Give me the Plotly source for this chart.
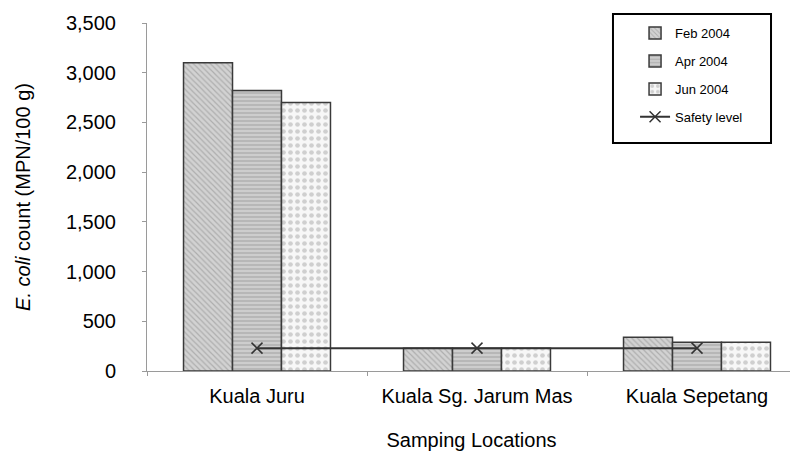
import plotly.graph_objects as go

locations = ["Kuala Juru", "Kuala Sg. Jarum Mas", "Kuala Sepetang"]
feb_2004 = [3100, 230, 340]
apr_2004 = [2820, 230, 290]
jun_2004 = [2700, 230, 290]
safety_level = [230, 230, 230]
y_ticks = [0, 500, 1000, 1500, 2000, 2500, 3000, 3500]

FONT = "Liberation Sans, Arial, sans-serif"
EDGE = "#3a3a3a"

fig = go.Figure()
fig.add_trace(go.Bar(
    x=locations, y=feb_2004, name="Feb 2004", legendgroup="a",
    marker=dict(color="#cfcfcf", line=dict(color=EDGE, width=1.5),
                pattern=dict(shape="\\", fgcolor="#8a8a8a", bgcolor="#d2d2d2", size=4, solidity=0.3)),
))
fig.add_trace(go.Bar(
    x=locations, y=apr_2004, name="Apr 2004", legendgroup="b",
    marker=dict(color="#c8c8c8", line=dict(color=EDGE, width=1.5),
                pattern=dict(shape="-", fgcolor="#8e8e8e", bgcolor="#cdcdcd", size=4, solidity=0.35)),
))
fig.add_trace(go.Bar(
    x=locations, y=jun_2004, name="Jun 2004", legendgroup="c",
    marker=dict(color="#f2f2f2", line=dict(color=EDGE, width=1.5),
                pattern=dict(shape=".", fgcolor="#a8a8a8", bgcolor="#f7f7f7", size=7, solidity=0.35)),
))
fig.add_trace(go.Scatter(
    x=locations, y=safety_level, name="Safety level", legendgroup="d",
    mode="lines+markers",
    line=dict(color="#333333", width=2),
    marker=dict(symbol="x-thin", size=11, line=dict(color="#333333", width=1.5)),
))

fig.update_layout(
    width=790, height=449,
    margin=dict(l=139, r=2, t=15, b=86, autoexpand=False),
    paper_bgcolor="white", plot_bgcolor="white",
    font=dict(family=FONT, color="black"),
    barmode="group", bargap=0.332, bargroupgap=0,
    showlegend=True,
    legend=dict(x=0.752, y=1.014, xanchor="left", yanchor="top",
                bgcolor="rgba(0,0,0,0)", borderwidth=0,
                font=dict(size=13, family=FONT), tracegroupgap=8,
                itemwidth=30),
    shapes=[dict(type="rect", xref="paper", yref="paper",
                 x0=0.718, x1=0.9615, y0=0.655, y1=1.026,
                 line=dict(color="black", width=2), fillcolor="rgba(0,0,0,0)")],
)
fig.update_xaxes(
    range=[-0.5, 2.45], showline=True, linecolor="#9a9a9a", linewidth=1,
    ticks="outside", tickson="boundaries", ticklen=4, tickcolor="#9a9a9a",
    tickfont=dict(size=20, family=FONT), ticklabelstandoff=7,
    title=dict(text="Samping Locations", font=dict(size=20, family=FONT), standoff=26),
    showgrid=False, zeroline=False, automargin=False,
)
fig.update_yaxes(
    range=[0, 3500], tickvals=y_ticks, tickformat=",",
    showline=True, linecolor="#9a9a9a", linewidth=1,
    ticks="outside", ticklen=4, tickcolor="#9a9a9a",
    tickfont=dict(size=20, family=FONT), ticklabelstandoff=22,
    title=dict(text="<i>E. coli</i> count (MPN/100 g)", font=dict(size=20, family=FONT), standoff=29),
    showgrid=False, zeroline=False, automargin=False,
)

fig.write_html("out.html")
